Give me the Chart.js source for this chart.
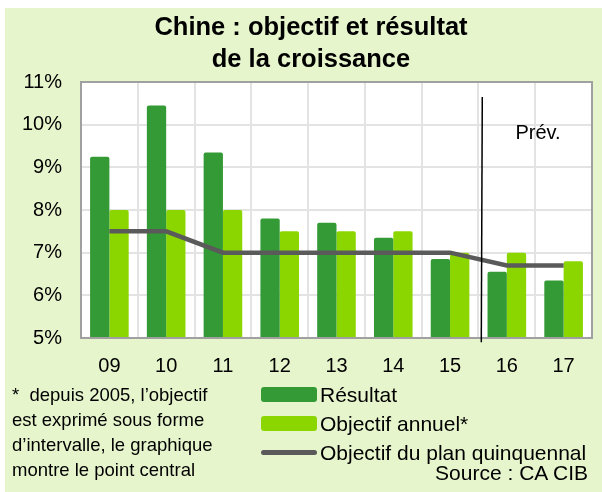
<!DOCTYPE html>
<html>
<head>
<meta charset="utf-8">
<script src="https://cdn.jsdelivr.net/npm/chart.js@4"></script>
<style>
  body { margin: 0; background: #fff; font-family: "Liberation Sans", Arial, sans-serif; }
  #wrap { position: relative; width: 602px; height: 492px; overflow: hidden; }
  #panel { position: absolute; left: 5px; top: 8px; right: 0; bottom: 0; background: #e7f5cd; }
  #chartCanvas { position: absolute; left: 0; top: 0; }
  #title { position: absolute; left: 20px; right: 0; top: 10px; text-align: center; font-weight: bold; font-size: 25.5px; line-height: 32px; color: #000; }
  #note { position: absolute; left: 12px; top: 382px; font-size: 18.5px; line-height: 25px; color: #000; }
  #legend { position: absolute; left: 261px; top: 380px; font-size: 21px; color: #000; }
  #legend .row { height: 29px; display: flex; align-items: center; }
  #legend .sw { width: 56px; height: 15px; border-radius: 3px; margin-right: 3px; }
  #legend .ln { width: 56px; height: 5px; border-radius: 3px; margin-right: 3px; }
  #source { position: absolute; right: 14px; top: 461px; font-size: 21px; color: #000; }
</style>
</head>
<body>
<div id="wrap">
  <div id="panel"></div>
  <canvas id="chartCanvas" width="602" height="492"></canvas>
  <div id="title">Chine : objectif et résultat<br>de la croissance</div>
  <div id="note">*&nbsp; depuis 2005, l’objectif<br>est exprimé sous forme<br>d’intervalle, le graphique<br>montre le point central</div>
  <div id="legend"></div>
  <div id="source">Source : CA CIB</div>
</div>
<script>
// --- data ---
const years = ["09", "10", "11", "12", "13", "14", "15", "16", "17"];
const resultat = [9.25, 10.45, 9.35, 7.8, 7.7, 7.35, 6.85, 6.55, 6.35];
const objectifAnnuel = [8, 8, 8, 7.5, 7.5, 7.5, 7, 7, 6.8];
const objectifPlan = [7.5, 7.5, 7, 7, 7, 7, 7, 6.7, 6.7];
const yTicks = [5, 6, 7, 8, 9, 10, 11];

// forecast split (between 15 and 16) and its label
const prevSplit = 6.55;
const prevTop = 10.65;
const prevLabel = { text: "Prév.", x: 7.55, y: 9.8 };

const DARK = "#339a35";
const LIGHT = "#8cd600";
const GREY = "#5a5a5a";
const FONT = "'Liberation Sans', Arial, sans-serif";

const canvas = document.getElementById("chartCanvas");

// white plot area, frame, separator line and "Prév."
const frame = {
  id: "frame",
  beforeDraw(chart) {
    const { ctx, chartArea: a } = chart;
    ctx.save();
    ctx.fillStyle = "#fff";
    ctx.fillRect(a.left, a.top, a.right - a.left, a.bottom - a.top);
    ctx.restore();
  },
  afterDatasetsDraw(chart) {
    const { ctx, chartArea: a, scales: { x, y } } = chart;
    ctx.save();
    ctx.strokeStyle = "#a0a0a0";
    ctx.lineWidth = 2;
    ctx.strokeRect(a.left, a.top, a.right - a.left, a.bottom - a.top);

    const sx = x.getPixelForValue(prevSplit);
    ctx.strokeStyle = "#000";
    ctx.lineWidth = 1.5;
    ctx.beginPath();
    ctx.moveTo(sx + 1, y.getPixelForValue(prevTop));
    ctx.lineTo(sx, y.getPixelForValue(4.9));
    ctx.stroke();

    ctx.fillStyle = "#000";
    ctx.font = "20px " + FONT;
    ctx.textAlign = "center";
    ctx.textBaseline = "middle";
    ctx.fillText(prevLabel.text, x.getPixelForValue(prevLabel.x), y.getPixelForValue(prevLabel.y));
    ctx.restore();
  }
};

const chart = new Chart(canvas, {
  type: "bar",
  data: {
    labels: years,
    datasets: [
      {
        type: "line",
        label: "Objectif du plan quinquennal",
        data: objectifPlan,
        borderColor: GREY,
        backgroundColor: GREY,
        borderWidth: 4.5,
        pointRadius: 0,
        tension: 0,
        order: 0
      },
      {
        label: "Résultat",
        data: resultat,
        backgroundColor: DARK,
        borderRadius: { topLeft: 2, topRight: 2 },
        order: 1
      },
      {
        label: "Objectif annuel*",
        data: objectifAnnuel,
        backgroundColor: LIGHT,
        borderRadius: { topLeft: 2, topRight: 2 },
        order: 2
      }
    ]
  },
  options: {
    responsive: false,
    animation: false,
    layout: { padding: { left: 0, right: 10, top: 82, bottom: 0 } },
    datasets: { bar: { categoryPercentage: 0.68, barPercentage: 1 } },
    plugins: {
      legend: { display: false },
      tooltip: { enabled: false },
      title: { display: false }
    },
    scales: {
      x: {
        grid: { offset: true, color: "#e3e3e3", lineWidth: 2, drawTicks: false },
        border: { display: false },
        ticks: { color: "#000", font: { family: FONT, size: 20 }, padding: 16 },
        afterFit(scale) { scale.height = 154; }
      },
      y: {
        min: 5,
        max: 11,
        afterBuildTicks(scale) { scale.ticks = yTicks.map(v => ({ value: v })); },
        grid: { color: "#e3e3e3", lineWidth: 2, drawTicks: false },
        border: { display: false },
        ticks: { color: "#000", font: { family: FONT, size: 20 }, padding: 19, callback: v => v + "%" },
        afterFit(scale) { scale.width = 81; }
      }
    }
  },
  plugins: [frame]
});

// legend built from the datasets
const legendEl = document.getElementById("legend");
[chart.data.datasets[1], chart.data.datasets[2], chart.data.datasets[0]].forEach(ds => {
  const row = document.createElement("div");
  row.className = "row";
  const mark = document.createElement("span");
  mark.className = ds.type === "line" ? "ln" : "sw";
  mark.style.background = ds.backgroundColor;
  const txt = document.createElement("span");
  txt.textContent = ds.label;
  row.append(mark, txt);
  legendEl.append(row);
});
</script>
</body>
</html>
